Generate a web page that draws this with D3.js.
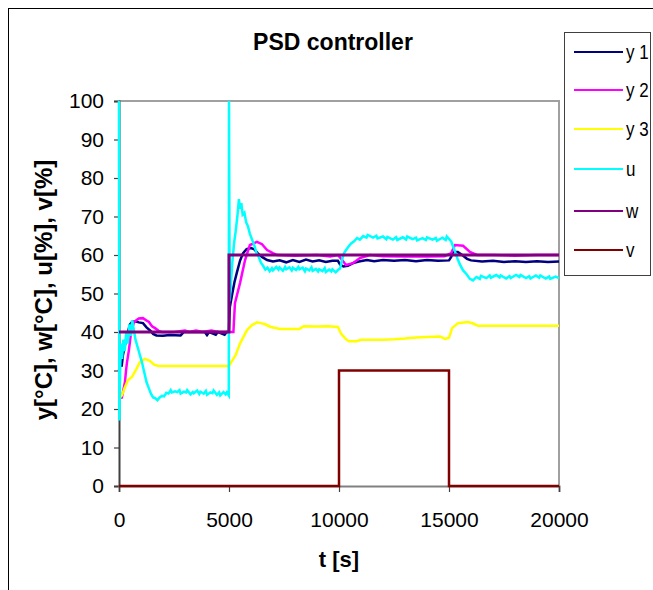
<!DOCTYPE html>
<html><head><meta charset="utf-8">
<script src="https://cdn.jsdelivr.net/npm/d3@7"></script>
<style>body{margin:0;background:#fff}svg{display:block}text{font-family:"Liberation Sans",Arial,sans-serif}</style>
</head><body><svg id="c" width="653" height="590"></svg>
<script>
const title = "PSD controller";
const xLabel = "t [s]";
const yLabel = "y[°C], w[°C], u[%], v[%]";
const xTicks = [0, 5000, 10000, 15000, 20000];
const yTicks = [0,10,20,30,40,50,60,70,80,90,100];
const seriesNames = ["y 1","y 2","y 3","u","w","v"];
const seriesColors = ["#000080","#ff00ff","#ffff00","#00ffff","#800080","#800000"];

const y1 = [[0,30],[60,32],[120,31],[180,34],[250,36],[320,38],[400,40],[500,42],[600,42.6],[750,42.8],[900,42.5],[1090,42.3],[1250,41.2],[1450,40.2],[1550,39.5],[1700,39.1],[2000,39],[2300,39.2],[2800,39.1],[2950,40],[3500,40],[3900,40],[4000,39.2],[4100,40],[4400,39.3],[4500,40],[4800,39.3],[4900,40],[4990,40],[5040,46.5],[5150,50],[5250,53],[5360,55.5],[5500,58.5],[5640,60.5],[5800,61.5],[6000,61.8],[6150,61.5],[6300,60.5],[6500,59.5],[6730,58.7],[7000,58.3],[7300,58.6],[7600,58.1],[7900,58.7],[8200,58.2],[8500,58.8],[8800,58.3],[9100,58.6],[9400,58.2],[9700,58.5],[9950,58.5],[10050,57.5],[10200,57],[10400,57.2],[10640,57.9],[10900,58.3],[11270,58.7],[11600,58.4],[12000,58.7],[12500,58.5],[13000,58.7],[13500,58.4],[14000,58.7],[14500,58.5],[15000,58.6],[15100,59.5],[15180,60.8],[15400,60.8],[15600,60],[15820,59],[16000,58.6],[16500,58.3],[17000,58.5],[17500,58.2],[18000,58.4],[18500,58.2],[19000,58.4],[19500,58.2],[20000,58.3]];
const y2 = [[0,23],[130,23],[200,25],[270,27],[320,30],[360,32],[450,35.3],[545,39.7],[680,42.6],[900,43.5],[1090,43.6],[1250,43],[1360,42.6],[1500,41.5],[1640,41],[1800,40.3],[1950,40],[2500,40],[3000,40.4],[3200,40],[3500,40.4],[3800,40],[4200,40.4],[4500,40],[5000,40],[5200,40],[5270,47.5],[5500,52.7],[5730,58.7],[5950,62.6],[6270,63.4],[6500,62.8],[6730,61.3],[7000,60.5],[7180,60],[8000,59.8],[9000,60],[9600,59.6],[9950,60],[10100,59],[10320,57.4],[10640,57.9],[10950,59.2],[11410,60],[12000,59.7],[13000,59.6],[14000,59.6],[14800,59.7],[15100,60.5],[15270,62.6],[15640,62.4],[15950,60.8],[16270,60],[17000,60],[18000,59.8],[19000,60],[20000,60]];
const y3 = [[0,22.5],[45,23],[136,23.6],[250,25.4],[410,27.5],[590,28.3],[800,30.5],[950,32.2],[1180,33],[1400,32.5],[1600,31.5],[1800,31.2],[3000,31.2],[4000,31.2],[5000,31.2],[5140,32.5],[5300,34],[5500,37],[5700,39.2],[5820,40.5],[6045,41.8],[6270,42.5],[6450,42.3],[6640,42],[6900,41.3],[7320,40.8],[8200,40.8],[8400,41.5],[9000,41.4],[9500,41.5],[9950,41.3],[10100,39.5],[10300,38.2],[10450,37.6],[10800,37.6],[11000,38],[12000,38],[12500,38.1],[13000,38.3],[13500,38.6],[14000,38.7],[14600,38.8],[14820,38.2],[15000,38.5],[15140,41],[15410,42.3],[15860,42.6],[16100,42.2],[16320,41.6],[17000,41.6],[18000,41.6],[19000,41.6],[20000,41.6]];
const u = [[0,100],[15,17],[50,30],[90,37],[140,33],[200,38],[260,35],[330,40],[400,37],[470,42],[540,39],[600,43],[660,41],[750,38],[850,36],[950,34],[1050,32],[1150,29.5],[1250,27],[1350,25.5],[1450,24],[1550,23],[1650,22.8],[1750,22.3],[1850,23],[1950,23.4],[2050,23.3],[2150,24.2],[2250,24],[2350,24.9],[2400,24.3],[2550,24.6],[2650,24.4],[2750,24.9],[2800,24],[2950,24.5],[3050,24.3],[3100,24.9],[3250,23.8],[3350,24.4],[3400,24.1],[3550,24.8],[3650,23.9],[3700,24.5],[3850,24],[3950,24.7],[4000,23.7],[4150,24.3],[4250,24.1],[4300,24.8],[4450,23.7],[4550,24.3],[4600,23.5],[4750,24.4],[4850,23.8],[4900,24.3],[4990,23.5],[5000,100],[5030,48],[5080,52],[5150,58],[5230,63],[5300,66],[5380,70],[5450,74.5],[5500,72],[5560,73.5],[5620,70.5],[5700,71],[5780,68.5],[5860,67.5],[5950,65.5],[6050,64],[6150,62.5],[6250,60.5],[6350,59.5],[6450,58],[6550,57.2],[6650,56.2],[6750,56.7],[6850,55.8],[6950,56.6],[7000,56],[7150,56.9],[7250,56.2],[7300,56.8],[7450,55.9],[7550,56.9],[7600,56.3],[7750,56.8],[7850,56],[7900,56.7],[8050,56.1],[8150,56.9],[8200,56.3],[8350,56.7],[8450,55.8],[8500,56.5],[8650,56],[8750,56.8],[8800,55.9],[8950,56.4],[9050,55.7],[9100,56.3],[9250,55.8],[9350,56.6],[9400,55.6],[9550,56.2],[9650,55.7],[9700,56.3],[9850,55.5],[9950,56.1],[10050,56.5],[10150,59],[10230,60.5],[10320,61.3],[10410,62],[10550,63],[10700,63.6],[10820,64.4],[10950,64],[11100,64.9],[11250,64.5],[11300,65.2],[11550,64.5],[11700,65],[11750,64.3],[12000,64.8],[12150,64.1],[12200,64.7],[12450,64],[12600,64.6],[12650,63.9],[12900,64.6],[13050,64],[13100,64.8],[13350,64.1],[13500,64.5],[13550,63.8],[13800,64.4],[13950,63.9],[14000,64.6],[14250,64],[14400,64.4],[14450,63.7],[14700,64.5],[14850,63.9],[14900,64.8],[15100,63.5],[15200,62],[15300,60.5],[15400,58.8],[15500,57.5],[15640,56],[15800,55],[15950,53.8],[16090,53.4],[16250,54.3],[16400,53.8],[16450,54.6],[16700,54],[16850,54.7],[16900,54.1],[17150,54.8],[17300,54.2],[17350,54.7],[17600,53.9],[17750,54.5],[17800,54],[18050,54.8],[18200,54.3],[18250,54.8],[18500,54],[18650,54.5],[18700,53.9],[18950,54.7],[19100,54.1],[19150,54.7],[19400,53.9],[19550,54.4],[19600,53.8],[19850,54.4],[20000,54]];
const w = [[0,40],[5000,40],[5000,60],[20000,60]];
const v = [[0,0],[10000,0],[10000,30],[15000,30],[15000,0],[20000,0]];

const svg = d3.select("#c");
const L = 119, R = 559, T = 101, B = 486;
const x = d3.scaleLinear().domain([0,20000]).range([L,R]);
const y = d3.scaleLinear().domain([0,100]).range([B,T]);

// outer border
svg.append("rect").attr("x",8.5).attr("y",8.5).attr("width",700).attr("height",700)
  .attr("fill","none").attr("stroke","#000").attr("stroke-width",1);

// plot frame (top/right gray)
svg.append("path").attr("d",`M${L},${T}H${R}V${B}`).attr("fill","none").attr("stroke","#a0a0a0").attr("stroke-width",2);

// axes
const yAxis = svg.append("g").attr("transform",`translate(${L},0)`)
  .call(d3.axisLeft(y).tickValues(yTicks).tickSize(5).tickPadding(10));
const xAxis = svg.append("g").attr("transform",`translate(0,${B})`)
  .call(d3.axisBottom(x).tickValues(xTicks).tickFormat(d3.format("d")).tickSize(6).tickPadding(20));
yAxis.select(".domain").attr("stroke","#404040").attr("stroke-width",2);
xAxis.select(".domain").attr("stroke","#808080").attr("stroke-width",2);
svg.selectAll(".tick line").attr("stroke","#404040").attr("stroke-width",1.2);
svg.selectAll(".tick text").attr("font-size",21).attr("fill","#000").attr("font-family","Liberation Sans, Arial, sans-serif");

// series
const line = d3.line().x(d=>x(d[0])).y(d=>y(d[1]));
const data = [y1,y2,y3,u,w,v];
const widths = [2.5,2.5,2.5,2.5,3,2.5];
data.forEach((s,i)=>{
  svg.append("path").datum(s).attr("d",line).attr("fill","none")
    .attr("stroke",seriesColors[i]).attr("stroke-width",widths[i]).attr("stroke-linejoin","miter");
});

// title & labels
svg.append("text").attr("x",333).attr("y",50).attr("text-anchor","middle")
  .attr("font-size",23).attr("font-weight","bold").text(title);
svg.append("text").attr("x",339).attr("y",567).attr("text-anchor","middle")
  .attr("font-size",22).attr("font-weight","bold").text(xLabel);
svg.append("text").attr("transform","translate(52,290) rotate(-90)").attr("text-anchor","middle")
  .attr("font-size",24).attr("font-weight","bold").text(yLabel);

// legend
svg.append("rect").attr("x",564.5).attr("y",32.5).attr("width",86).attr("height",243)
  .attr("fill","#fff").attr("stroke","#404040").attr("stroke-width",1);
const legY = [52,90,129,169,211,250];
seriesNames.forEach((n,i)=>{
  svg.append("line").attr("x1",574).attr("x2",623).attr("y1",legY[i]).attr("y2",legY[i])
    .attr("stroke",seriesColors[i]).attr("stroke-width",2);
  svg.append("text").attr("transform",`translate(626,${legY[i]+7}) scale(1,1.15)`)
    .attr("font-size",17).text(n);
});
</script></body></html>
